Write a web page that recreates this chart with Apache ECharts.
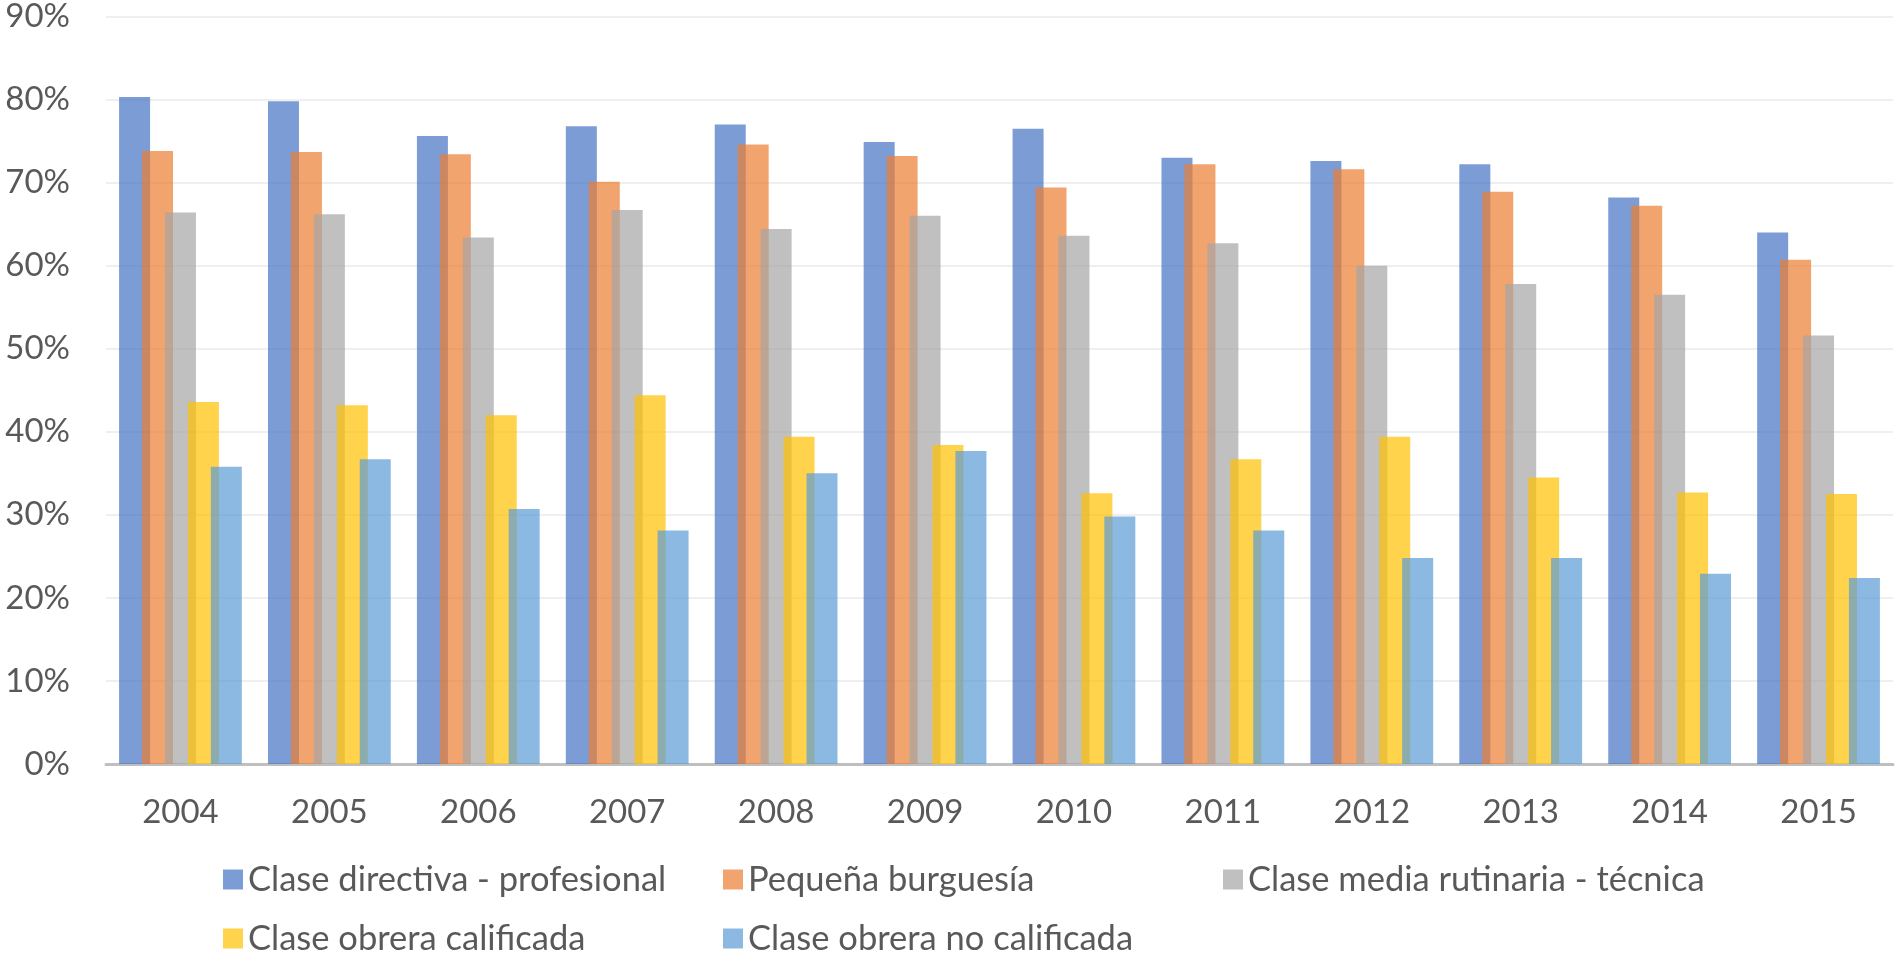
<!DOCTYPE html>
<html>
<head>
<meta charset="utf-8">
<script src="https://cdn.jsdelivr.net/npm/echarts@6/dist/echarts.min.js"></script>
<style>
  html, body { margin: 0; padding: 0; background: #fff; }
  #chart { width: 1895px; height: 957px; }
</style>
</head>
<body>
<div id="chart"></div>
<script>
// años (categorías)
var years = ['2004', '2005', '2006', '2007', '2008', '2009', '2010', '2011', '2012', '2013', '2014', '2015'];

// nombres de las series
var seriesNames = [
    'Clase directiva - profesional',
    'Pequeña burguesía',
    'Clase media rutinaria - técnica',
    'Clase obrera calificada',
    'Clase obrera no calificada'
];

// valores en %
var directiva   = [80.3, 79.8, 75.6, 76.8, 77.0, 74.9, 76.5, 73.0, 72.6, 72.2, 68.2, 64.0];
var pequena     = [73.8, 73.7, 73.4, 70.1, 74.6, 73.2, 69.4, 72.2, 71.6, 68.9, 67.2, 60.7];
var media       = [66.4, 66.2, 63.4, 66.7, 64.4, 66.0, 63.6, 62.7, 60.0, 57.8, 56.5, 51.6];
var calificada  = [43.6, 43.2, 42.0, 44.4, 39.4, 38.4, 32.6, 36.7, 39.4, 34.5, 32.7, 32.5];
var noCalif     = [35.8, 36.7, 30.7, 28.1, 35.0, 37.7, 29.8, 28.1, 24.8, 24.8, 22.9, 22.4];

// ticks del eje Y
var yTicks = [0, 10, 20, 30, 40, 50, 60, 70, 80, 90];

var colors = [
    'rgba(68,114,196,0.7)',
    'rgba(237,125,49,0.7)',
    'rgba(165,165,165,0.7)',
    'rgba(255,192,0,0.7)',
    'rgba(91,155,213,0.7)'
];

var dataArr = [directiva, pequena, media, calificada, noCalif];
var textColor = '#595959';
var fontFam = 'Lato, "Open Sans", sans-serif';

var myChart = echarts.init(document.getElementById('chart'));

var seriesArr = seriesNames.map(function (name, i) {
    return {
        name: name,
        type: 'bar',
        data: dataArr[i],
        barWidth: 31,
        barGap: '-26%',
        itemStyle: { color: colors[i] },
        emphasis: { disabled: true }
    };
});

var option = {
    animation: false,
    grid: {
        left: 106,
        right: 2,
        top: 16,
        bottom: 193
    },
    legend: {
        data: seriesNames,
        left: 218,
        top: 845,
        width: 1520,
        orient: 'horizontal',
        icon: 'rect',
        itemWidth: 20,
        itemHeight: 20,
        itemGap: 0,
        textStyle: {
            color: textColor,
            fontFamily: fontFam,
            fontSize: 34.5,
            width: 475,
            lineHeight: 59,
            overflow: 'none'
        }
    },
    xAxis: {
        type: 'category',
        data: years,
        axisTick: { show: false },
        axisLine: { lineStyle: { color: '#BFBFBF', width: 3 } },
        axisLabel: {
            color: textColor,
            fontFamily: fontFam,
            fontSize: 33,
            margin: 32
        }
    },
    yAxis: {
        type: 'value',
        min: yTicks[0],
        max: yTicks[yTicks.length - 1],
        interval: yTicks[1] - yTicks[0],
        axisLine: { show: false },
        axisTick: { show: false },
        splitLine: { lineStyle: { color: '#EFEFEF', width: 2 } },
        axisLabel: {
            color: textColor,
            fontFamily: fontFam,
            fontSize: 33,
            margin: 36,
            formatter: '{value}%'
        }
    },
    series: seriesArr
};

myChart.setOption(option);
</script>
</body>
</html>
